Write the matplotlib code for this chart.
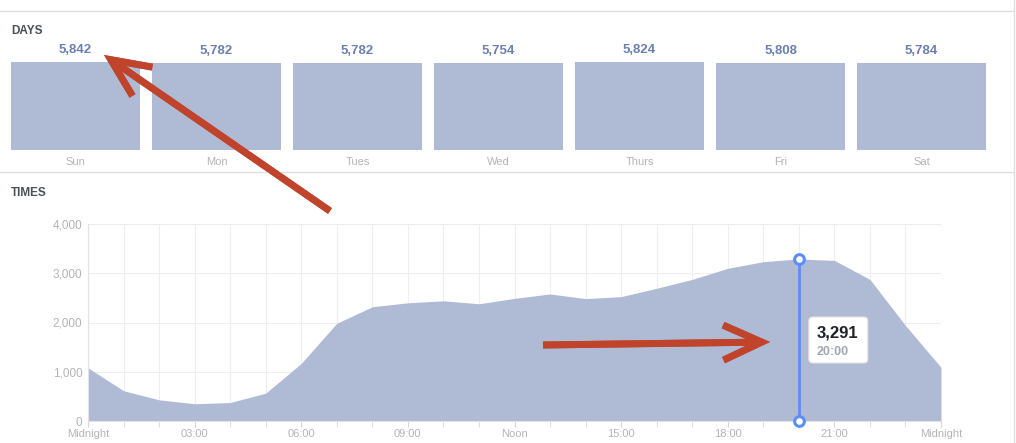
import matplotlib
matplotlib.use("Agg")
import matplotlib.pyplot as plt
import matplotlib.transforms as mtransforms
from matplotlib.patches import FancyBboxPatch
from matplotlib.lines import Line2D

plt.rcParams['font.family'] = ['Liberation Sans', 'DejaVu Sans']

# data
days = ['Sun', 'Mon', 'Tues', 'Wed', 'Thurs', 'Fri', 'Sat']
day_values = [5842, 5782, 5782, 5754, 5824, 5808, 5784]

hours = list(range(25))
hour_values = [1080, 615, 430, 350, 375, 565, 1170, 1985, 2320, 2400,
               2440, 2380, 2490, 2580, 2485, 2525, 2695, 2875, 3100, 3235,
               3291, 3260, 2875, 1940, 1090]
hour_labels = ['Midnight', '03:00', '06:00', '09:00', 'Noon', '15:00', '18:00', '21:00', 'Midnight']
peak_hour = 20

FILL = '#afbbd5'
VALUE_C = '#6b80b1'
LIGHT = '#b4b4b4'
GRID = '#eeeeee'
BORDER = '#dddfe2'
RED = '#c0442b'
BLUE = '#5b8ef7'

W, H = 1016, 443
fig = plt.figure(figsize=(W / 100, H / 100), dpi=100)
fig.patch.set_facecolor('white')

def fx(px):
    return px / W

def fy(py):
    return 1 - py / H

# panel borders
fig.add_artist(Line2D([0, fx(1014)], [fy(10.5), fy(10.5)], color=BORDER, lw=1))
fig.add_artist(Line2D([0, fx(1014)], [fy(172), fy(172)], color=BORDER, lw=1))
fig.add_artist(Line2D([fx(1014), fx(1014)], [0, 1], color=BORDER, lw=1))

fig.text(fx(11), fy(31), 'DAYS', fontsize=8.5, fontweight='bold', color='#4b4f56', va='center')
fig.text(fx(11), fy(193), 'TIMES', fontsize=8.5, fontweight='bold', color='#4b4f56', va='center')

# ---- days bars ----
ax1 = fig.add_axes([fx(5), fy(150), fx(987), fy(62) - fy(150)])
x = list(range(len(days)))
ax1.bar(x, day_values, width=0.915, color=FILL)
ax1.set_xlim(-0.5, 6.5)
ax1.set_ylim(0, max(day_values))
for xi, v in zip(x, day_values):
    ax1.annotate(f'{v:,}', (xi, v), xytext=(0, 6), textcoords='offset pixels',
                 ha='center', va='bottom', fontsize=9.5, fontweight='bold', color=VALUE_C,
                 annotation_clip=False)
ax1.set_xticks(x)
ax1.set_xticklabels(days, fontsize=8, color=LIGHT)
ax1.tick_params(axis='x', length=0, pad=5)
ax1.set_yticks([])
for s in ax1.spines.values():
    s.set_visible(False)

# ---- times area ----
ax2 = fig.add_axes([fx(88), fy(421), fx(941) - fx(88), fy(224) - fy(421)])
ax2.fill_between(hours, hour_values, 0, color=FILL, lw=0, zorder=2)
ax2.set_xlim(0, 24)
ax2.set_ylim(0, 4000)
ax2.set_yticks([0, 1000, 2000, 3000, 4000])
ax2.set_yticklabels([f'{v:,}' for v in [0, 1000, 2000, 3000, 4000]], fontsize=8.5, color=LIGHT)
ax2.set_xticks(hours, minor=True)
ax2.set_xticks(list(range(0, 25, 3)))
ax2.set_xticklabels(hour_labels, fontsize=8, color=LIGHT)
ax2.tick_params(axis='y', length=0, pad=4)
ax2.tick_params(axis='x', which='both', length=4, color='#d5d5d5', pad=2)
ax2.grid(True, which='both', color=GRID, lw=0.8, zorder=0)
ax2.set_axisbelow(True)
for name, s in ax2.spines.items():
    if name in ('left', 'bottom'):
        s.set_color('#e3e3e3')
    else:
        s.set_visible(False)

# hover marker at the peak hour
peak_val = hour_values[hours.index(peak_hour)]
ax2.plot([peak_hour, peak_hour], [0, peak_val], color=BLUE, lw=2, zorder=4, clip_on=False)
ax2.plot([peak_hour, peak_hour], [0, peak_val], 'o', ms=7, mfc='white', mec=BLUE, mew=2.2,
         zorder=5, clip_on=False)

# tooltip, laid out in pixels from the bottom of the marker
anchor = mtransforms.ScaledTranslation(peak_hour, 0, ax2.transData)
box = FancyBboxPatch((10, 58), 59, 46, boxstyle='round,pad=0,rounding_size=4',
                     transform=anchor, facecolor='white', edgecolor='#e2e2e2', lw=0.8, zorder=6)
ax2.add_artist(box)
ax2.text(18, 83, f'{peak_val:,}', transform=anchor, fontsize=12, fontweight='bold',
         color='#1d2129', va='baseline', zorder=7)
ax2.text(18, 66, f'{peak_hour:02d}:00', transform=anchor, fontsize=9, fontweight='bold',
         color='#a3a7b0', va='baseline', zorder=7)

# red call-out arrows drawn over the screenshot
arrow_kw = dict(arrowstyle='->,head_length=2.3,head_width=1.05', color=RED, lw=5,
                mutation_scale=12, shrinkA=0, shrinkB=0, capstyle='butt', joinstyle='miter')
fig.add_artist(plt.annotate('', xy=(104, H - 55), xytext=(330, H - 211),
                            xycoords='figure pixels', textcoords='figure pixels',
                            arrowprops=arrow_kw))
fig.add_artist(plt.annotate('', xy=(770, H - 342), xytext=(543, H - 345),
                            xycoords='figure pixels', textcoords='figure pixels',
                            arrowprops=arrow_kw))

fig.savefig('out.png', dpi=100, facecolor='white')
